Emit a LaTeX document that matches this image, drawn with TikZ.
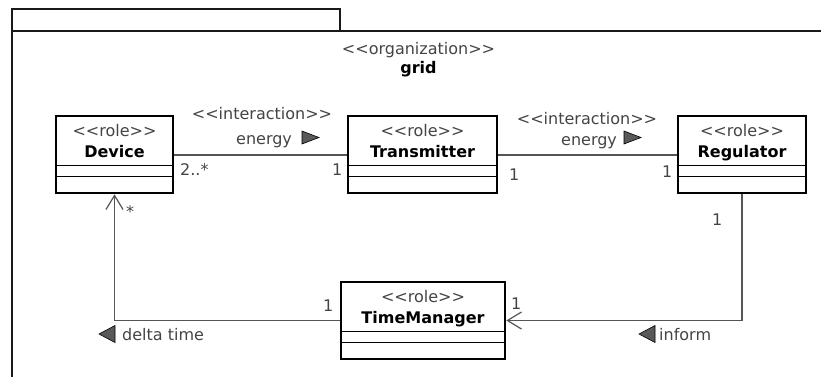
\documentclass[tikz,border=0pt]{standalone}
\usepackage{fontspec}
\setmainfont{DejaVu Sans}
\usetikzlibrary{arrows.meta,calc}
\definecolor{linegray}{HTML}{555555}
\definecolor{txtgray}{HTML}{444444}
\newcommand\LLq{<\kern0pt<}
\newcommand\GGq{>\kern0pt>}
\begin{document}
\begin{tikzpicture}[x=1pt,y=-1pt,
  font=\fontsize{16}{19}\selectfont,
  pkg/.style={draw=black!90, line width=2.2pt},
  rolebox/.style={draw=black, line width=2.6pt, fill=white, minimum height=77pt, inner sep=0pt},
  divider/.style={draw=black, line width=1.3pt},
  stereo/.style={text=txtgray, inner sep=0pt, anchor=base},
  rolename/.style={text=black, font=\fontsize{16}{19}\selectfont\bfseries, inner sep=0pt, anchor=base},
  lbl/.style={text=txtgray, inner sep=0pt, anchor=base west},
  assoc/.style={draw=linegray, line width=1.2pt},
  navig/.style={assoc, -{Straight Barb[length=14pt,width=17pt,line width=1.2pt]}},
  dirtri/.style={fill=black!65, draw=black, line width=0.6pt, line join=miter},
]
\useasboundingbox (0,0) rectangle (821,376);
% package frame
\draw[pkg] (12,380) -- (12,31) -- (825,31);
\draw[pkg] (12,31) -- (12,9) -- (340,9) -- (340,31);
\node[stereo] (orgst) at (418.5,54) {\LLq organization\GGq};
\node[rolename] (orgname) at (418.5,73) {grid};

% role boxes
\node[rolebox, minimum width=117pt] (dev) at (114.5,154.5) {};
\node[rolebox, minimum width=149pt] (tr) at (422.5,154.5) {};
\node[rolebox, minimum width=128pt] (reg) at (742,154.5) {};
\node[rolebox, minimum width=164pt] (tm) at (423,320.5) {};
\foreach \b/\n in {dev/Device, tr/Transmitter, reg/Regulator, tm/TimeManager}{
  \node[stereo] (\b-st) at ($(\b.north)+(0,22)$) {\LLq role\GGq};
  \node[rolename] (\b-nm) at ($(\b.north)+(0,42.5)$) {\n};
  \draw[divider] ($(\b.north west)+(0,50.5)$) -- ($(\b.north east)+(0,50.5)$);
  \draw[divider] ($(\b.north west)+(0,61.5)$) -- ($(\b.north east)+(0,61.5)$);
}

% associations
\draw[assoc] ([yshift=-0.5pt]dev.east) -- ([yshift=-0.5pt]tr.west);
\draw[assoc] ([yshift=-0.5pt]tr.west -| tr.east) -- ([yshift=-0.5pt]reg.west);
\draw[navig] (reg.south) -- (reg.south |- tm.east) -- (tm.east);
\draw[navig] (tm.west) -- (dev.south |- tm.west) -- (dev.south);

% labels on association 1
\node[stereo] (ia1) at (262,119) {\LLq interaction\GGq};
\node[lbl] (en1) at (236,144) {energy};
\draw[dirtri] (302,131) -- (319,137.5) -- (302,144) -- cycle;
\node[lbl] (m1a) at (180,175) {2..*};
\node[lbl] (m1b) at (332,175) {1};

% labels on association 2
\node[stereo] (ia2) at (587,124) {\LLq interaction\GGq};
\node[lbl] (en2) at (561,145) {energy};
\draw[dirtri] (624,131) -- (641,137.5) -- (624,144) -- cycle;
\node[lbl] (m2a) at (509,180) {1};
\node[lbl] (m2b) at (662,177) {1};

% regulator -> timemanager
\node[lbl] (m3a) at (712,225) {1};
\node[lbl] (m3b) at (511,309) {1};
\draw[dirtri] (655,325.5) -- (639,334) -- (655,342.5) -- cycle;
\node[lbl] (inf) at (659,340) {inform};

% timemanager -> device
\node[lbl] (m4a) at (323,311) {1};
\node (m4b) [text=txtgray, inner sep=0pt] at (130,212) {*};
\draw[dirtri] (115,325.5) -- (99,334) -- (115,342.5) -- cycle;
\node[lbl] (dt) at (122,340) {delta time};
\end{tikzpicture}
\end{document}
